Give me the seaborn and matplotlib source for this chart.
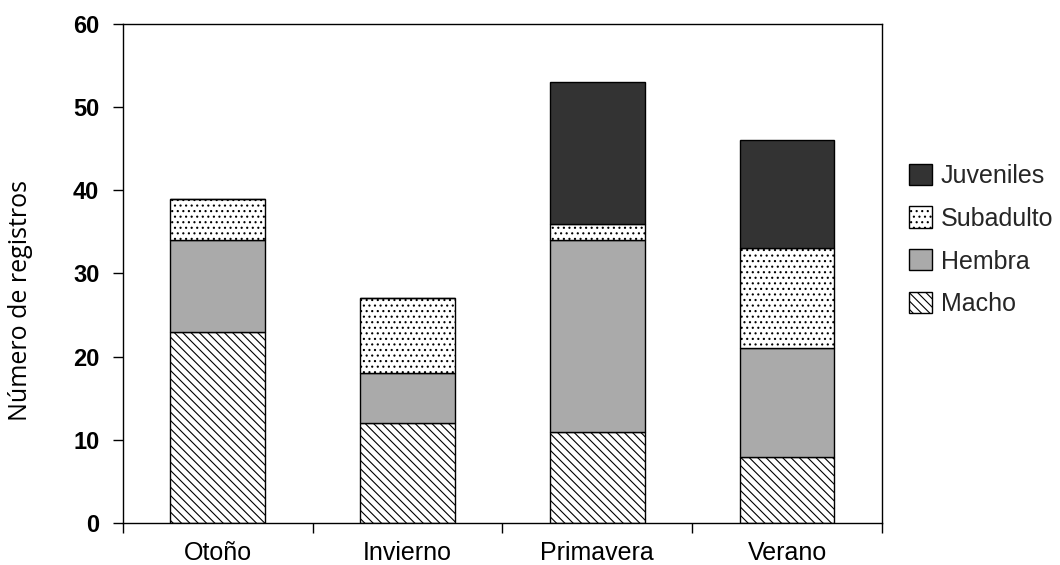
import numpy as np
import matplotlib
matplotlib.use("Agg")
import matplotlib.pyplot as plt
import seaborn as sns
from matplotlib.patches import Patch

# data
seasons = ['Otoño', 'Invierno', 'Primavera', 'Verano']
macho = [23, 12, 11, 8]
hembra = [11, 6, 23, 13]
subadulto = [5, 9, 2, 12]
juveniles = [0, 0, 17, 13]

layers = [('Macho', macho, 'white', '\\\\\\\\'),
          ('Hembra', hembra, '#aaaaaa', ''),
          ('Subadulto', subadulto, 'white', '...'),
          ('Juveniles', juveniles, '#333333', '')]

sns.set_style('white')
plt.rcParams['hatch.linewidth'] = 0.8

f, a = plt.subplots(figsize=(10.6, 5.65), dpi=100)

bottom = np.zeros(len(seasons))
handles = []
for name, vals, col, hatch in layers:
    n0 = len(a.patches)
    sns.barplot(x=seasons, y=vals, bottom=bottom, color=col, saturation=1,
                width=0.5, edgecolor='black', linewidth=1, ax=a, errorbar=None)
    for p in a.patches[n0:]:
        p.set_hatch(hatch)
    bottom = bottom + np.array(vals)
    handles.append(Patch(facecolor=col, edgecolor='black', hatch=hatch, label=name))

a.set_xlim(-0.5, 3.5)
a.set_ylim(0, 60)
a.set_yticks(range(0, 61, 10))
a.set_yticklabels([str(v) for v in range(0, 61, 10)], fontsize=17,
                  fontweight='bold', family='Liberation Sans')
a.tick_params(axis='y', direction='out', length=7, width=1, left=True, pad=10,
              labelcolor='black', color='black')
a.set_xticks(range(4))
a.set_xticklabels(seasons, fontsize=18, family='Liberation Sans')
a.tick_params(axis='x', which='major', length=0, pad=13, labelcolor='black')
a.set_xticks(np.arange(-0.5, 4, 1), minor=True)
a.tick_params(axis='x', which='minor', direction='out', length=7, width=1,
              bottom=True, color='black')
a.set_xlabel('')
a.set_ylabel('Número de registros', fontsize=18, family='Open Sans', color='black')
a.yaxis.set_label_coords(-0.119, 0.445)

for s in a.spines.values():
    s.set_color('black')
    s.set_linewidth(1)

f.legend(handles=handles[::-1], loc='center left', bbox_to_anchor=(909 / 1060, 1 - 240 / 565),
         bbox_transform=f.transFigure, frameon=False, borderpad=0, borderaxespad=0,
         prop={'family': 'Liberation Sans', 'size': 18},
         handlelength=0.92, handleheight=0.92, handletextpad=0.35, labelspacing=0.75)

plt.subplots_adjust(left=0.116, right=0.832, top=0.958, bottom=0.074)
plt.savefig('out.png', dpi=100)
